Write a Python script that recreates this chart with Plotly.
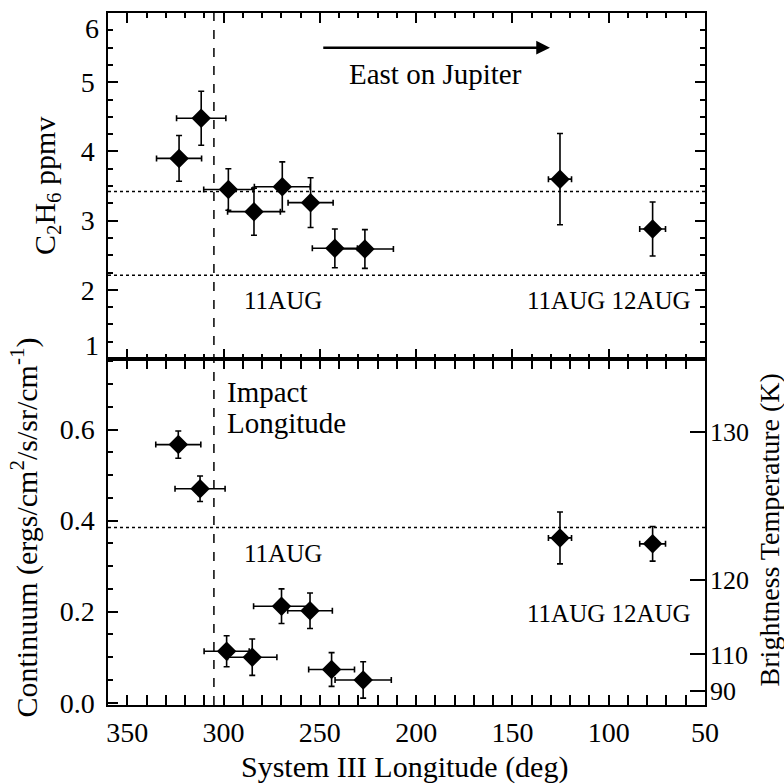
import plotly.graph_objects as go
from plotly.subplots import make_subplots

# ---------------- data ----------------
# Top panel: C2H6 mixing ratio
lon_top = [323.1, 311.6, 297.5, 284.2, 269.5, 254.8, 242.2, 226.6, 125.3, 77.2]
lon_top_err = [11.7, 12.8, 12.8, 13.7, 14.5, 11.7, 11.7, 14.8, 6.0, 6.7]
c2h6 = [3.90, 4.48, 3.45, 3.13, 3.49, 3.26, 2.60, 2.59, 3.60, 2.88]
c2h6_err = [0.33, 0.39, 0.30, 0.34, 0.36, 0.36, 0.28, 0.28, 0.66, 0.39]
c2h6_levels = [3.42, 2.21]

# Bottom panel: continuum radiance
lon_bot = [323.5, 312.2, 298.4, 285.1, 269.9, 255.1, 243.9, 227.5, 125.3, 77.2]
lon_bot_err = [11.7, 13.0, 11.7, 12.8, 14.5, 11.6, 11.9, 14.6, 6.0, 6.7]
continuum = [0.567, 0.470, 0.113, 0.100, 0.212, 0.202, 0.073, 0.050, 0.362, 0.349]
continuum_err = [0.030, 0.028, 0.034, 0.040, 0.038, 0.039, 0.037, 0.040, 0.057, 0.038]
continuum_levels = [0.385]

impact_lon = 305.0

# Brightness temperature scale (right axis): radiance position of each label
tb_positions = [0.595, 0.269, 0.106, 0.025]
tb_labels = ["130", "120", "110", "90"]

x_ticks = [350, 300, 250, 200, 150, 100, 50]
c2h6_ticks = [1, 2, 3, 4, 5, 6]
c2h6_ticktext = ["", "2", "3", "4", "5", ""]   # end labels drawn inside the frame below
cont_ticks = [0.0, 0.2, 0.4, 0.6]
cont_ticktext = ["0.0", "0.2", "0.4", "0.6"]

FONT = "Liberation Serif, Times New Roman, Times, serif"

fig = make_subplots(rows=2, cols=1, shared_xaxes=True, vertical_spacing=0,
                    specs=[[{}], [{"secondary_y": True}]])

marker = dict(symbol="diamond", size=15, color="black")

fig.add_trace(go.Scatter(
    x=lon_top, y=c2h6, mode="markers", marker=marker,
    error_x=dict(type="data", array=lon_top_err, thickness=1.6, width=3, color="black"),
    error_y=dict(type="data", array=c2h6_err, thickness=1.6, width=3, color="black"),
    showlegend=False), row=1, col=1)

fig.add_trace(go.Scatter(
    x=lon_bot, y=continuum, mode="markers", marker=marker,
    error_x=dict(type="data", array=lon_bot_err, thickness=1.6, width=3, color="black"),
    error_y=dict(type="data", array=continuum_err, thickness=1.6, width=3, color="black"),
    showlegend=False), row=2, col=1, secondary_y=False)

# invisible trace to carry the right-hand axis
fig.add_trace(go.Scatter(x=[lon_bot[0]], y=[continuum[0]], mode="markers",
                         marker=dict(opacity=0), showlegend=False, hoverinfo="skip"),
              row=2, col=1, secondary_y=True)

# reference levels
for lv in c2h6_levels:
    fig.add_shape(type="line", xref="x domain", x0=0, x1=1, yref="y", y0=lv, y1=lv,
                  line=dict(color="black", width=1.5, dash="dot"))
for lv in continuum_levels:
    fig.add_shape(type="line", xref="x2 domain", x0=0, x1=1, yref="y2", y0=lv, y1=lv,
                  line=dict(color="black", width=1.5, dash="dot"))
# impact longitude
fig.add_shape(type="line", xref="x", x0=impact_lon, x1=impact_lon, yref="paper", y0=0, y1=1,
              line=dict(color="black", width=1.5, dash="dash"))

axis_common = dict(showline=True, linecolor="black", linewidth=1.5, mirror="allticks",
                   ticks="inside", tickcolor="black", showgrid=False, zeroline=False,
                   automargin=False, ticklabeloverflow="allow",
                   tickfont=dict(family=FONT, size=28, color="black"))

fig.update_xaxes(range=[360, 50], domain=[0, 1], tickvals=x_ticks, ticklen=10, tickwidth=1.5,
                 minor=dict(dtick=10, ticks="inside", ticklen=5, tickcolor="black", tick0=0),
                 **axis_common)
fig.update_xaxes(showticklabels=False, row=1, col=1)
fig.update_xaxes(ticklabelstandoff=2, row=2, col=1)

fig.update_layout(
    yaxis=dict(range=[1, 6.002], tickvals=c2h6_ticks, ticktext=c2h6_ticktext,
               ticklen=10, tickwidth=1.5,
               minor=dict(dtick=0.25, ticks="inside", ticklen=5, tickcolor="black"),
               ticklabelstandoff=6, **axis_common),
    yaxis2=dict(range=[-0.005, 0.755], tickvals=cont_ticks, ticktext=cont_ticktext,
                ticklen=10, tickwidth=1.5,
                minor=dict(dtick=0.05, tick0=0, ticks="inside", ticklen=5, tickcolor="black"),
                ticklabelstandoff=6, automargin=False, ticklabeloverflow="allow",
                showline=True, linecolor="black", linewidth=1.5, mirror=True,
                ticks="inside", tickcolor="black", showgrid=False, zeroline=False,
                tickfont=dict(family=FONT, size=28, color="black")),
    yaxis3=dict(range=[-0.005, 0.755], tickvals=tb_positions, ticktext=tb_labels,
                ticks="inside", ticklen=15, tickwidth=1.5, tickcolor="black",
                automargin=False, ticklabeloverflow="allow",
                showline=False, showgrid=False, zeroline=False, ticklabelstandoff=4,
                tickfont=dict(family=FONT, size=26, color="black")),
)

ann_font = dict(family=FONT, size=29, color="black")
date_font = dict(family=FONT, size=25, color="black")
tick_font = dict(family=FONT, size=28, color="black")

# arrow "East on Jupiter"
arrow_start, arrow_end, arrow_y = 249.0, 130.5, 5.5
annotations = [
    dict(x=arrow_end, y=arrow_y, ax=arrow_start, ay=arrow_y, xref="x", yref="y",
         axref="x", ayref="y", text="", showarrow=True, arrowhead=2, arrowsize=1.1,
         arrowwidth=2.5, arrowcolor="black"),
    dict(x=189.7, y=5.12, xref="x", yref="y", text="East on Jupiter", showarrow=False,
         font=ann_font, xanchor="center", yanchor="middle"),
    dict(x=269, y=1.84, xref="x", yref="y", text="11AUG", showarrow=False,
         font=date_font, xanchor="center", yanchor="middle"),
    dict(x=56.3, y=1.84, xref="x", yref="y", text="11AUG 12AUG", showarrow=False,
         font=date_font, xanchor="right", yanchor="middle"),
    dict(x=299.3, y=0.6825, xref="x2", yref="y2", text="Impact", showarrow=False,
         font=ann_font, xanchor="left", yanchor="middle"),
    dict(x=299.3, y=0.6144, xref="x2", yref="y2", text="Longitude", showarrow=False,
         font=ann_font, xanchor="left", yanchor="middle"),
    dict(x=269, y=0.328, xref="x2", yref="y2", text="11AUG", showarrow=False,
         font=date_font, xanchor="center", yanchor="middle"),
    dict(x=56.3, y=0.197, xref="x2", yref="y2", text="11AUG 12AUG", showarrow=False,
         font=date_font, xanchor="right", yanchor="middle"),
    # end tick labels of the top panel, kept inside the frame as in the original
    dict(x=-0.012, y=c2h6_ticks[-1], xref="paper", yref="y", text=str(c2h6_ticks[-1]),
         showarrow=False, font=tick_font, xanchor="right", yanchor="top", yshift=2),
    dict(x=-0.012, y=c2h6_ticks[0], xref="paper", yref="y", text=str(c2h6_ticks[0]),
         showarrow=False, font=tick_font, xanchor="right", yanchor="bottom", yshift=-4),
    # axis titles
    dict(x=-0.102, y=0.75, xref="paper", yref="paper", text="C<sub>2</sub>H<sub>6</sub> ppmv",
         textangle=-90, showarrow=False, font=dict(family=FONT, size=30, color="black"),
         xanchor="center", yanchor="middle"),
    dict(x=-0.139, y=0.2565, xref="paper", yref="paper",
         text="Continuum (ergs/cm<sup>2</sup>/s/sr/cm<sup>-1</sup>)",
         textangle=-90, showarrow=False, font=dict(family=FONT, size=30, color="black"),
         xanchor="center", yanchor="middle"),
    dict(x=1.108, y=0.253, xref="paper", yref="paper", text="Brightness Temperature (K)",
         textangle=-90, showarrow=False, font=dict(family=FONT, size=28, color="black"),
         xanchor="center", yanchor="middle"),
    dict(x=0.496, y=-0.089, xref="paper", yref="paper", text="System III Longitude (deg)",
         showarrow=False, font=dict(family=FONT, size=30, color="black"),
         xanchor="center", yanchor="middle"),
]

fig.update_layout(
    width=784, height=784,
    margin=dict(l=108, r=79, t=13, b=79, autoexpand=False),
    paper_bgcolor="white", plot_bgcolor="white",
    showlegend=False,
    annotations=annotations,
    font=dict(family=FONT, color="black"),
)

fig.write_html("out.html", config={"displayModeBar": False},
               post_script="document.body.style.margin='0';")
